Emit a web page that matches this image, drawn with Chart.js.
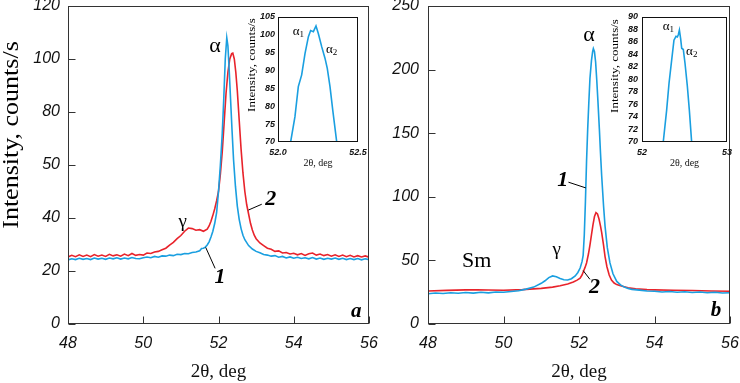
<!DOCTYPE html>
<html><head><meta charset="utf-8">
<script src="https://cdn.jsdelivr.net/npm/chart.js@4/dist/chart.umd.min.js"></script>
<style>
html,body{margin:0;padding:0;background:#fff;width:740px;height:383px;overflow:hidden}
.c{position:absolute}
canvas{display:block}
</style></head><body>
<div class="c" style="left:0;top:0"><canvas id="ca" width="390" height="383"></canvas></div>
<div class="c" style="left:370px;top:0"><canvas id="cb" width="370" height="383"></canvas></div>
<div class="c" style="left:240px;top:0"><canvas id="cia" width="135" height="169"></canvas></div>
<div class="c" style="left:600px;top:0"><canvas id="cib" width="140" height="169"></canvas></div>
<script>
// ---------- DATA ----------
const xTickLabels = ['48','50','52','54','56'];
const aYTickLabels = ['0','20','40','50','80','100','120'];
const bYTickLabels = ['0','50','100','150','200','250'];
const iaXTickLabels = ['52.0','52.5'];
const iaYTickLabels = ['70','75','80','85','90','95','100','105'];
const ibXTickLabels = ['52','53'];
const ibYTickLabels = ['70','72','74','76','78','80','82','84','86','88','90'];

// Panel a, curve 1 (blue)
const aBlueX = [48.0,48.1,48.2,48.3,48.4,48.5,48.6,48.7,48.8,48.9,49.0,49.1,49.2,49.3,49.4,49.5,49.6,49.7,49.8,49.9,50.0,50.1,50.2,50.3,50.4,50.5,50.6,50.7,50.8,50.9,51.0,51.1,51.2,51.3,51.4,51.5,51.55,51.6,51.65,51.7,51.75,51.8,51.85,51.9,51.95,52.0,52.05,52.1,52.14,52.18,52.22,52.25,52.28,52.32,52.36,52.4,52.45,52.5,52.55,52.6,52.65,52.7,52.8,52.9,53.0,53.1,53.2,53.3,53.4,53.5,53.6,53.7,53.8,53.9,54.0,54.1,54.2,54.3,54.4,54.5,54.6,54.7,54.8,54.9,55.0,55.1,55.2,55.3,55.4,55.5,55.6,55.7,55.8,55.9,56.0];
const aBlueY = [24.2,24.6,24.3,24.8,24.4,24.7,24.3,24.9,24.5,24.8,24.4,24.9,24.6,25.0,24.5,24.9,24.6,25.1,24.7,24.6,25.0,25.3,25.0,25.5,25.2,25.7,25.6,26.0,25.8,26.3,26.2,26.6,26.5,27.0,27.2,27.6,28.5,28.6,29.0,29.8,31.0,32.8,35.0,38.0,42.0,50.0,60.0,72.0,85.0,100.0,108.0,105.0,97.0,85.0,73.0,62.0,52.0,44.5,39.5,36.0,33.5,31.8,29.6,28.3,27.4,26.9,26.2,26.0,25.6,25.8,25.2,25.5,24.9,25.3,24.8,25.2,24.7,25.0,24.6,25.1,24.5,24.9,24.4,24.8,24.5,24.9,24.4,24.8,24.3,24.7,24.3,24.7,24.2,24.6,24.3];
// Panel a, curve 2 (red)
const aRedX = [48.0,48.1,48.2,48.3,48.4,48.5,48.6,48.7,48.8,48.9,49.0,49.1,49.2,49.3,49.4,49.5,49.6,49.7,49.8,49.9,50.0,50.1,50.2,50.3,50.4,50.5,50.6,50.7,50.8,50.9,51.0,51.1,51.2,51.3,51.4,51.5,51.6,51.7,51.75,51.8,51.85,51.9,51.95,52.0,52.05,52.1,52.15,52.2,52.25,52.3,52.35,52.38,52.42,52.46,52.5,52.55,52.6,52.65,52.7,52.75,52.8,52.85,52.9,52.95,53.0,53.1,53.2,53.3,53.4,53.5,53.6,53.7,53.8,53.9,54.0,54.1,54.2,54.3,54.4,54.5,54.6,54.7,54.8,54.9,55.0,55.1,55.2,55.3,55.4,55.5,55.6,55.7,55.8,55.9,56.0];
const aRedY = [25.3,25.9,25.4,26.1,25.5,26.0,25.4,26.2,25.6,26.0,25.5,26.3,25.7,26.1,25.6,26.4,25.8,26.6,25.9,26.2,26.0,26.8,26.6,27.2,27.4,28.0,28.6,29.8,30.8,32.2,33.4,35.0,36.2,36.0,35.4,35.6,35.0,35.8,37.0,38.8,41.0,43.5,46.5,50.0,56.5,65.0,76.0,87.0,95.0,100.0,102.0,102.2,100.0,95.0,88.0,77.0,66.0,57.0,50.0,45.0,41.5,38.0,35.5,33.5,32.2,30.6,29.6,28.6,28.2,27.4,27.6,26.8,27.0,26.4,26.7,26.1,26.6,25.9,26.5,26.8,26.0,26.4,25.8,26.2,25.6,26.1,25.5,26.0,25.4,25.9,25.3,25.8,25.3,25.7,25.2];

// Panel b, curve 1 (blue)
const bBlueX = [48.0,48.2,48.4,48.6,48.8,49.0,49.2,49.4,49.6,49.8,50.0,50.2,50.4,50.6,50.8,51.0,51.1,51.2,51.3,51.4,51.5,51.6,51.7,51.8,51.9,51.97,52.03,52.08,52.11,52.14,52.17,52.2,52.23,52.26,52.29,52.33,52.36,52.38,52.41,52.44,52.47,52.5,52.54,52.57,52.6,52.65,52.69,52.75,52.82,52.9,53.0,53.1,53.2,53.3,53.4,53.6,53.8,54.0,54.2,54.4,54.6,54.8,55.0,55.2,55.4,55.6,55.8,56.0];
const bBlueY = [23.8,24.4,24.0,24.6,24.2,24.8,24.3,25.0,24.5,25.1,25.0,25.6,26.2,27.4,29.0,32.0,34.0,36.5,37.8,37.2,35.8,34.8,34.6,35.6,37.8,40.5,44.0,49.0,54.0,70.0,96.0,128.0,153.0,174.0,193.0,207.0,214.0,216.5,214.0,206.0,192.0,176.0,153.0,134.0,117.0,93.0,77.0,60.0,48.0,39.5,33.5,30.8,29.0,28.0,27.2,26.6,26.0,25.8,25.2,25.6,25.0,25.4,24.8,25.2,24.6,25.0,24.4,24.6];
// Panel b, curve 2 (red)
const bRedX = [48.0,48.5,49.0,49.3,49.6,50.0,50.5,51.0,51.3,51.5,51.7,51.85,51.95,52.03,52.08,52.12,52.16,52.2,52.25,52.29,52.33,52.37,52.41,52.45,52.49,52.53,52.57,52.6,52.65,52.69,52.74,52.8,52.86,52.93,53.0,53.1,53.3,53.5,53.8,54.0,54.5,55.0,55.5,56.0];
const bRedY = [26.0,26.4,26.8,26.9,26.7,26.5,27.0,28.0,29.0,30.0,31.5,33.0,34.5,36.0,38.5,41.5,44.5,48.0,55.0,62.0,70.0,78.0,84.5,87.5,86.5,82.5,77.0,72.0,62.0,53.0,45.0,38.5,34.5,32.2,31.0,30.0,28.5,27.6,27.0,26.8,26.5,26.3,26.0,25.8];

// Inset a (blue, alpha doublet)
const iaX = [52.07,52.079,52.106,52.127,52.148,52.169,52.19,52.204,52.221,52.2375,52.252,52.273,52.294,52.308,52.325,52.342,52.367,52.375];
const iaY = [67.5,70.0,77.1,85.5,88.8,94.8,99.5,101.2,100.9,102.5,100.4,96.7,93.4,90.6,85.5,79.0,70.0,67.0];
// Inset b (blue, alpha doublet)
const ibX = [52.24,52.25,52.29,52.318,52.349,52.376,52.4,52.416,52.428,52.44,52.455,52.467,52.486,52.506,52.533,52.557,52.584,52.595];
const ibY = [68.5,70.0,75.1,79.4,83.1,86.3,86.9,86.8,87.2,87.9,86.5,85.0,84.8,82.6,79.0,75.1,70.0,68.5];

// ---------- STYLE / HELPERS ----------
const BLUE = '#1a9fe0', RED = '#e8232b';
const pts = (xs, ys) => xs.map((x, i) => ({x, y: ys[i]}));
const SANS = '"Liberation Sans", Arial, sans-serif';
const SERIF = '"Liberation Serif", "Times New Roman", serif';

const decor = {
  id: 'decor',
  beforeDraw(chart, args, o) {
    if (o.fill) {
      const a = chart.chartArea, ctx = chart.ctx;
      ctx.save(); ctx.fillStyle = o.fill; ctx.fillRect(a.left, a.top, a.right - a.left, a.bottom - a.top); ctx.restore();
    }
  },
  afterDatasetsDraw(chart, args, o) {
    const ctx = chart.ctx, a = chart.chartArea, xs = chart.scales.x, ys = chart.scales.y;
    ctx.save();
    ctx.strokeStyle = o.frame || '#222';
    ctx.lineWidth = 1;
    const L = Math.round(a.left) + 0.5, T = Math.round(a.top) + 0.5, R = Math.round(a.right) - 0.5, B = Math.round(a.bottom) - 0.5;
    ctx.strokeRect(L, T, R - L, B - T);
    const tl = o.tick || 0;
    if (tl) {
      ctx.beginPath();
      ys.ticks.forEach(t => { const p = Math.round(ys.getPixelForValue(t.value)) + 0.5; ctx.moveTo(L, p); ctx.lineTo(L + tl, p); });
      xs.ticks.forEach(t => { const p = Math.round(xs.getPixelForValue(t.value)) + 0.5; ctx.moveTo(p, B); ctx.lineTo(p, B - tl); });
      ctx.stroke();
    }
    ctx.strokeStyle = '#000';
    ctx.beginPath();
    (o.leaders || []).forEach(l => {
      ctx.moveTo(xs.getPixelForValue(l[0]), ys.getPixelForValue(l[1]));
      ctx.lineTo(xs.getPixelForValue(l[2]), ys.getPixelForValue(l[3]));
    });
    ctx.stroke();
    ctx.fillStyle = '#000'; ctx.textBaseline = 'middle';
    (o.labels || []).forEach(l => {
      const px = xs.getPixelForValue(l.x), py = ys.getPixelForValue(l.y);
      ctx.font = l.font;
      const w = ctx.measureText(l.text).width;
      let ws = 0;
      if (l.sub) { ctx.font = l.subFont; ws = ctx.measureText(l.sub).width; }
      const x0 = px - (w + ws) / 2;
      ctx.textAlign = 'left';
      ctx.font = l.font; ctx.fillText(l.text, x0, py);
      if (l.sub) { ctx.font = l.subFont; ctx.fillText(l.sub, x0 + w, py + l.subDy); }
    });
    if (o.yTitle) {
      const t = o.yTitle;
      ctx.save(); ctx.translate(t.x, t.y); ctx.rotate(-Math.PI / 2); ctx.scale(1, t.squash);
      ctx.font = t.font; ctx.textAlign = 'center'; ctx.textBaseline = 'middle';
      ctx.fillText(t.text, 0, 0); ctx.restore();
    }
    ctx.restore();
  }
};

function fixAxis(size, isX) {
  return (s) => {
    if (isX) s.height = size; else s.width = size;
    s.paddingTop = 0; s.paddingBottom = 0; s.paddingLeft = 0; s.paddingRight = 0;
  };
}

function lineDs(data, color, w) {
  return {data, borderColor: color, borderWidth: w, pointRadius: 0, tension: 0, fill: false};
}

function makeChart(id, cfg) {
  return new Chart(document.getElementById(id), {
    type: 'line',
    data: {datasets: cfg.datasets},
    options: {
      responsive: false, animation: false, parsing: true,
      plugins: {legend: {display: false}, tooltip: {enabled: false}, decor: cfg.decor},
      layout: {padding: cfg.padding},
      scales: {
        x: {
          type: 'linear', min: cfg.xMin, max: cfg.xMax,
          afterFit: fixAxis(cfg.xAxisH, true),
          grid: {display: false, drawTicks: false}, border: {display: false},
          ticks: {stepSize: cfg.xStep, autoSkip: false, maxRotation: 0, padding: cfg.xPad, color: '#111',
                  font: cfg.tickFont, callback: (v, i) => cfg.xLabels[i] ?? ''},
          title: {display: true, text: '2θ, deg', color: '#111', font: cfg.xTitleFont, padding: 0}
        },
        y: {
          type: 'linear', min: cfg.yMin, max: cfg.yMax,
          afterFit: fixAxis(cfg.yAxisW, false),
          grid: {display: false, drawTicks: false}, border: {display: false},
          ticks: {stepSize: cfg.yStep, autoSkip: false, padding: cfg.yPad, color: '#111',
                  font: cfg.tickFont, callback: (v, i) => cfg.yLabels[i] ?? ''}
        }
      }
    },
    plugins: [decor]
  });
}

const mainTick = {family: SANS, size: 16, style: 'italic'};
const mainXTitle = {family: SERIF, size: 19};
const annBig = '22px ' + SERIF;
const annNum = 'italic bold 22px ' + SERIF;

makeChart('ca', {
  datasets: [lineDs(pts(aBlueX, aBlueY), BLUE, 1.6), lineDs(pts(aRedX, aRedY), RED, 1.6)],
  xMin: 48, xMax: 56, xStep: 2, yMin: 0, yMax: 120, yStep: 20,
  xLabels: xTickLabels, yLabels: aYTickLabels,
  padding: {left: 0, top: 6, right: 21, bottom: 0},
  xAxisH: 59, yAxisW: 68, xPad: 10, yPad: 8,
  tickFont: mainTick, xTitleFont: mainXTitle,
  decor: {
    frame: '#333', tick: 7,
    yTitle: {text: 'Intensity, counts/s', x: 12, y: 135, font: '26px ' + SERIF, squash: 0.85},
    leaders: [[51.66, 28.9, 51.91, 21.0], [52.795, 43.0, 53.15, 45.2]],
    labels: [
      {text: 'α', x: 51.91, y: 105, font: annBig},
      {text: 'γ', x: 51.05, y: 38.6, font: '19px ' + SERIF},
      {text: '1', x: 52.04, y: 17.8, font: annNum},
      {text: '2', x: 53.39, y: 47.2, font: annNum},
      {text: 'a', x: 55.66, y: 4.6, font: 'italic bold 21px ' + SERIF}
    ]
  }
});

makeChart('cb', {
  datasets: [lineDs(pts(bBlueX, bBlueY), BLUE, 1.6), lineDs(pts(bRedX, bRedY), RED, 1.6)],
  xMin: 48, xMax: 56, xStep: 2, yMin: 0, yMax: 250, yStep: 50,
  xLabels: xTickLabels, yLabels: bYTickLabels,
  padding: {left: 0, top: 6, right: 10, bottom: 0},
  xAxisH: 59, yAxisW: 58, xPad: 10, yPad: 9,
  tickFont: mainTick, xTitleFont: mainXTitle,
  decor: {
    frame: '#333', tick: 7,
    leaders: [[51.72, 111.5, 52.18, 107.0], [52.11, 42.0, 52.29, 35.1]],
    labels: [
      {text: 'α', x: 52.265, y: 227, font: annBig},
      {text: 'γ', x: 51.41, y: 58.2, font: '19px ' + SERIF},
      {text: 'Sm', x: 49.29, y: 49, font: annBig},
      {text: '1', x: 51.57, y: 113, font: annNum},
      {text: '2', x: 52.41, y: 28.8, font: annNum},
      {text: 'b', x: 55.63, y: 10.5, font: 'italic bold 21px ' + SERIF}
    ]
  }
});

const insetTick = {family: SANS, size: 9, style: 'italic', weight: 'bold'};
const insetXTitle = {family: SERIF, size: 10};

makeChart('cia', {
  datasets: [lineDs(pts(iaX, iaY), BLUE, 1.6)],
  xMin: 52.0, xMax: 52.5, xStep: 0.5, yMin: 70, yMax: 105, yStep: 5,
  xLabels: iaXTickLabels, yLabels: iaYTickLabels,
  padding: {left: 0, top: 17, right: 17, bottom: 0},
  xAxisH: 27, yAxisW: 38, xPad: 5, yPad: 3,
  tickFont: insetTick, xTitleFont: insetXTitle,
  decor: {
    frame: '#111', tick: 0, fill: '#fff',
    yTitle: {text: 'Intensity, counts/s', x: 12, y: 65, font: '13px ' + SERIF, squash: 0.8},
    labels: [
      {text: 'α', sub: '1', x: 52.127, y: 100.9, font: '13px ' + SERIF, subFont: '9px ' + SERIF, subDy: 3},
      {text: 'α', sub: '2', x: 52.335, y: 95.8, font: '13px ' + SERIF, subFont: '9px ' + SERIF, subDy: 3}
    ]
  }
});

makeChart('cib', {
  datasets: [lineDs(pts(ibX, ibY), BLUE, 1.6)],
  xMin: 52, xMax: 53, xStep: 1, yMin: 70, yMax: 90, yStep: 2,
  xLabels: ibXTickLabels, yLabels: ibYTickLabels,
  padding: {left: 0, top: 17, right: 13, bottom: 0},
  xAxisH: 27, yAxisW: 42, xPad: 5, yPad: 4,
  tickFont: insetTick, xTitleFont: insetXTitle,
  decor: {
    frame: '#111', tick: 0, fill: '#fff',
    yTitle: {text: 'Intensity, counts/s', x: 15, y: 66, font: '13px ' + SERIF, squash: 0.8},
    labels: [
      {text: 'α', sub: '1', x: 52.31, y: 88.4, font: '13px ' + SERIF, subFont: '9px ' + SERIF, subDy: 3},
      {text: 'α', sub: '2', x: 52.585, y: 84.4, font: '13px ' + SERIF, subFont: '9px ' + SERIF, subDy: 3}
    ]
  }
});
</script>
</body></html>
